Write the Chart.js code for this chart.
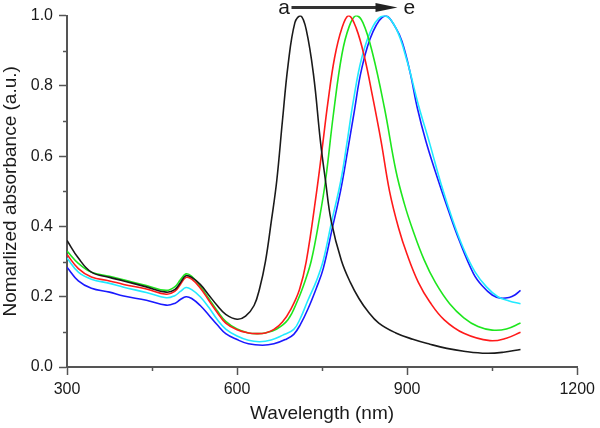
<!DOCTYPE html>
<html>
<head>
<meta charset="utf-8">
<script src="https://cdn.jsdelivr.net/npm/chart.js@4/dist/chart.umd.min.js"></script>
<style>
  html, body { margin: 0; padding: 0; background: #ffffff; }
  #c { display: block; }
</style>
</head>
<body>
<canvas id="c" width="600" height="428"></canvas>
<script>
// ---- Data ----
const waveA = [300,320,343,375,400,440,475,490,500,510,520,535,550,565,580,600,615,630,640,650,660,670,680,690,702,712,722,735,747,756,766,784,800,815,830,850,880,910,940,970,1000,1040,1070,1100];
const absA  = [0.36,0.31,0.27,0.255,0.245,0.228,0.213,0.22,0.24,0.26,0.255,0.235,0.205,0.175,0.15,0.136,0.145,0.175,0.225,0.30,0.41,0.53,0.70,0.86,0.98,1.0,0.96,0.83,0.643,0.53,0.416,0.303,0.24,0.195,0.16,0.125,0.097,0.079,0.065,0.053,0.045,0.039,0.042,0.05];

const waveB = [300,320,343,375,400,440,475,490,500,510,520,535,550,565,580,600,620,635,650,665,680,695,710,722,740,750,760,772,785,797,810,825,839,854,869,885,900,920,940,965,1000,1046,1075,1100];
const absB  = [0.32,0.28,0.256,0.245,0.235,0.222,0.207,0.215,0.235,0.255,0.25,0.225,0.19,0.155,0.125,0.106,0.097,0.095,0.097,0.107,0.128,0.165,0.22,0.30,0.495,0.62,0.75,0.88,0.965,1.0,0.965,0.88,0.77,0.643,0.50,0.395,0.32,0.24,0.185,0.135,0.096,0.075,0.082,0.099];

const waveC = [300,320,343,375,400,440,475,490,500,510,520,535,550,565,580,600,620,635,650,670,690,707,720,731,745,756,770,785,798,810,822,839,860,880,895,910,930,950,975,1000,1025,1050,1075,1100];
const absC  = [0.33,0.295,0.27,0.258,0.248,0.232,0.218,0.228,0.248,0.265,0.258,0.23,0.195,0.16,0.13,0.108,0.097,0.095,0.097,0.108,0.135,0.19,0.245,0.303,0.42,0.53,0.72,0.89,0.97,1.0,0.98,0.893,0.737,0.56,0.465,0.39,0.305,0.24,0.18,0.14,0.115,0.105,0.108,0.125];

const waveD = [300,320,343,375,400,440,475,490,500,510,520,535,550,565,580,600,620,640,660,680,700,712,725,740,752,767,783,795,805,820,840,860,880,900,920,940,960,980,1000,1020,1040,1060,1080,1100];
const absD  = [0.31,0.27,0.25,0.238,0.227,0.212,0.197,0.203,0.215,0.226,0.22,0.20,0.17,0.135,0.108,0.088,0.076,0.072,0.077,0.09,0.107,0.14,0.19,0.245,0.303,0.415,0.53,0.65,0.756,0.88,0.97,1.0,0.965,0.87,0.745,0.635,0.52,0.42,0.335,0.27,0.228,0.20,0.188,0.18];

const waveE = [300,320,343,375,400,440,475,490,500,510,520,535,550,565,580,600,620,645,665,685,700,712,725,740,752,768,783,795,806,820,840,862,880,891,905,918,933,951,971,992,1017,1032,1050,1065,1080,1090,1100];
const absE  = [0.284,0.245,0.224,0.213,0.202,0.19,0.176,0.181,0.192,0.20,0.195,0.175,0.148,0.12,0.095,0.078,0.066,0.062,0.066,0.078,0.093,0.122,0.165,0.225,0.28,0.395,0.505,0.615,0.72,0.85,0.955,1.0,0.965,0.926,0.84,0.737,0.643,0.55,0.454,0.36,0.266,0.232,0.205,0.196,0.198,0.205,0.218];

const seriesNames = ['a','b','c','d','e'];
const seriesColors = ['#1a1a1a','#ff1a1a','#1ee61e','#22eaff','#1a1aff'];

const xTicks = [300, 600, 900, 1200];
const yTicks = [0.0, 0.2, 0.4, 0.6, 0.8, 1.0];

const xTitle = 'Wavelength (nm)';
const yTitle = 'Nomarlized absorbance (a.u.)';

// arrow annotation "a -> e" in data coordinates
const arrowStart = 696, arrowEnd = 883, arrowLevel = 1.023;
const labelA = {text: 'a', x: 683}, labelE = {text: 'e', x: 904};

function pts(w, a) { return w.map((x, i) => ({x: x, y: a[i]})); }
const waves = [waveA, waveB, waveC, waveD, waveE];
const vals = [absA, absB, absC, absD, absE];

const axisColor = '#555555';
const textColor = '#1a1a1a';
const fam = '"Liberation Sans", Arial, sans-serif';

const minorTicks = {
  id: 'minorTicks',
  afterDraw(chart) {
    const {ctx, chartArea, scales} = chart;
    ctx.save();
    ctx.strokeStyle = axisColor;
    ctx.lineWidth = 1.5;
    const xs = scales.x, ys = scales.y;
    for (let i = 0; i < xTicks.length - 1; i++) {
      const v = (xTicks[i] + xTicks[i + 1]) / 2;
      const p = Math.round(xs.getPixelForValue(v)) + 0.5;
      ctx.beginPath(); ctx.moveTo(p, chartArea.bottom); ctx.lineTo(p, chartArea.bottom + 4); ctx.stroke();
    }
    for (let i = 0; i < yTicks.length - 1; i++) {
      const v = (yTicks[i] + yTicks[i + 1]) / 2;
      const p = Math.round(ys.getPixelForValue(v)) + 0.5;
      ctx.beginPath(); ctx.moveTo(chartArea.left - 4, p); ctx.lineTo(chartArea.left, p); ctx.stroke();
    }
    // arrow annotation
    const y = ys.getPixelForValue(arrowLevel);
    const x0 = xs.getPixelForValue(arrowStart);
    const x1 = xs.getPixelForValue(arrowEnd);
    ctx.strokeStyle = '#333333';
    ctx.fillStyle = '#222222';
    ctx.lineWidth = 3;
    ctx.beginPath(); ctx.moveTo(x0, y); ctx.lineTo(x1 - 18, y); ctx.stroke();
    ctx.beginPath();
    ctx.moveTo(x1, y);
    ctx.lineTo(x1 - 22, y - 4.5);
    ctx.lineTo(x1 - 22, y + 4.5);
    ctx.closePath(); ctx.fill();
    ctx.font = '21px ' + fam;
    ctx.fillStyle = textColor;
    ctx.textAlign = 'center';
    ctx.textBaseline = 'middle';
    ctx.fillText(labelA.text, xs.getPixelForValue(labelA.x), y + 1);
    ctx.fillText(labelE.text, xs.getPixelForValue(labelE.x), y + 1);
    ctx.restore();
  }
};

new Chart(document.getElementById('c'), {
  type: 'line',
  data: {
    datasets: seriesNames.map((n, i) => ({
      label: n,
      data: pts(waves[i], vals[i]),
      borderColor: seriesColors[i],
      backgroundColor: seriesColors[i],
      borderWidth: 1.6,
      pointRadius: 0,
      fill: false,
      tension: 0.4
    }))
  },
  options: {
    responsive: false,
    animation: false,
    devicePixelRatio: 1,
    layout: { padding: { left: 0, right: 19, top: 14, bottom: 0 } },
    plugins: { legend: { display: false }, tooltip: { enabled: false } },
    scales: {
      x: {
        type: 'linear', min: 300, max: 1200,
        afterBuildTicks(s) { s.ticks = xTicks.map(v => ({value: v})); },
        ticks: { color: textColor, font: { family: fam, size: 16 }, padding: 5, maxRotation: 0,
                 callback: v => String(v) },
        grid: { drawOnChartArea: false, drawTicks: true, tickLength: 8, color: axisColor, tickWidth: 1.5 },
        border: { display: true, color: axisColor, width: 2 },
        title: { display: true, text: xTitle, color: textColor, font: { family: fam, size: 19 }, padding: { top: 0, bottom: 3 } },
        afterFit(s) { s.height = 61; }
      },
      y: {
        type: 'linear', min: 0, max: 1,
        afterBuildTicks(s) { s.ticks = yTicks.map(v => ({value: v})); },
        ticks: { color: textColor, font: { family: fam, size: 16 }, padding: 6,
                 callback: v => Number(v).toFixed(1) },
        grid: { drawOnChartArea: false, drawTicks: true, tickLength: 8, color: axisColor, tickWidth: 1.5 },
        border: { display: true, color: axisColor, width: 2 },
        title: { display: true, text: yTitle, color: textColor, font: { family: fam, size: 19, lineHeight: 1.1 }, padding: { top: 0, bottom: 0 } },
        afterFit(s) { s.width = 67; }
      }
    }
  },
  plugins: [minorTicks]
});
</script>
</body>
</html>
